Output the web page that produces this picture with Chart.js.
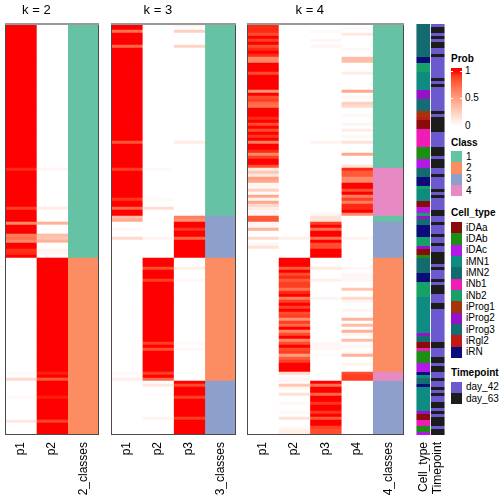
<!DOCTYPE html>
<html>
<head>
<meta charset="utf-8">
<script src="https://cdn.jsdelivr.net/npm/chart.js@4.4.1/dist/chart.umd.min.js"></script>
<style>
  body { margin: 0; width: 504px; height: 504px; background: #fff; position: relative; overflow: hidden;
         font-family: "Liberation Sans", Arial, sans-serif; }
  .panel { position: absolute; top: 0; height: 504px; }
  .lg { position: absolute; font-size: 10px; line-height: 12px; color: #000; white-space: nowrap; }
  .lg.title { font-weight: bold; }
  .box { position: absolute; }
</style>
</head>
<body>
<div class="panel" style="left:5px;width:94px"><canvas id="k2"></canvas></div>
<div class="panel" style="left:111px;width:125px"><canvas id="k3"></canvas></div>
<div class="panel" style="left:247px;width:157px"><canvas id="k4"></canvas></div>
<div class="panel" style="left:416px;width:29px"><canvas id="anno"></canvas></div>
<script>
// number of samples (rows), same order in every panel
const N = 137;

// ---- k = 2 ----
const k2_p1 = [
  1,1,1,1,1,1,1,1,1,1,
  1,1,1,1,1,1,1,1,1,1,
  1,1,1,1,1,1,1,1,1,1,
  1,1,1,1,1,1,1,1,1,1,
  1,1,1,1,1,1,1,1,0.95,1,
  1,1,1,1,1,1,1,1,1,1,
  1,0.9,1,1,1,1,0.6,1,1,1,
  0.65,0.7,0.6,1,1,0.93,0.95,1,0,0,
  0,0,0,0,0,0,0,0,0,0,
  0,0,0,0,0,0,0,0,0,0,
  0,0,0,0,0,0,0,0,0,0,
  0,0,0,0,0,0,0.03,0,0.2,0,
  0,0,0,0,0.03,0,0,0,0,0,
  0,0,0.12,0,0,0,0
];
const k2_p2 = [
  0,0,0,0,0,0,0,0,0,0,
  0,0,0,0,0,0,0,0,0,0,
  0,0,0,0,0,0,0,0,0,0,
  0,0,0,0,0,0,0,0,0,0,
  0,0,0,0,0,0,0,0,0.05,0,
  0,0,0,0,0,0,0,0,0,0,
  0,0.1,0,0,0,0,0.4,0,0,0,
  0.35,0.3,0.4,0,0,0.07,0.05,0,1,1,
  1,1,1,1,1,1,1,1,1,1,
  1,1,1,1,1,1,1,1,1,1,
  1,1,1,1,1,1,1,1,1,1,
  1,1,1,1,1,1,0.97,1,0.8,1,
  1,1,1,1,0.97,1,1,1,1,1,
  1,1,0.88,1,1,1,1
];
const k2_class = [
  1,1,1,1,1,1,1,1,1,1,
  1,1,1,1,1,1,1,1,1,1,
  1,1,1,1,1,1,1,1,1,1,
  1,1,1,1,1,1,1,1,1,1,
  1,1,1,1,1,1,1,1,1,1,
  1,1,1,1,1,1,1,1,1,1,
  1,1,1,1,1,1,1,1,1,1,
  1,1,1,1,1,1,1,1,2,2,
  2,2,2,2,2,2,2,2,2,2,
  2,2,2,2,2,2,2,2,2,2,
  2,2,2,2,2,2,2,2,2,2,
  2,2,2,2,2,2,2,2,2,2,
  2,2,2,2,2,2,2,2,2,2,
  2,2,2,2,2,2,2
];

// ---- k = 3 ----
const k3_p1 = [
  1,1,0.7,1,1,1,1,0.75,1,1,
  1,1,1,1,1,1,1,1,1,1,
  1,1,1,1,1,1,1,1,1,1,
  1,1,1,1,1,1,1,1,1,0.82,
  1,1,1,1,1,1,1,1,0.9,1,
  1,1,1,1,1,1,1,1,0.92,1,
  1,0.75,1,1,0.35,0.45,0,0,0.04,0,
  0,0.2,0,0,0,0,0,0,0,0,
  0,0,0,0,0,0,0,0,0,0,
  0,0,0,0,0,0,0,0,0,0,
  0,0,0,0,0,0,0,0,0,0,
  0,0,0,0,0,0,0.03,0,0.08,0,
  0,0,0,0,0,0,0,0,0,0,
  0,0,0,0,0,0,0
];
const k3_p2 = [
  0,0,0,0,0,0,0,0,0,0,
  0,0,0,0,0,0,0,0,0,0,
  0,0,0,0,0,0,0,0,0,0,
  0,0,0,0,0,0,0,0,0,0,
  0,0,0,0,0,0,0,0,0.03,0,
  0,0,0,0,0,0,0,0,0.03,0,
  0,0.18,0,0,0,0,0,0,0,0,
  0,0.05,0,0,0,0,0,0,1,1,
  1,0.85,1,1,1,0.9,1,1,1,1,
  1,1,1,1,1,1,1,1,1,1,
  1,1,1,1,1,1,0.9,1,0.85,1,
  1,1,1,1,1,1,0.9,1,0.75,0,
  0.12,0,0,0.02,0,0,0,0,0,0,
  0,0.05,0,0,0,0,0
];
const k3_p3 = [
  0.05,0,0.25,0,0,0,0,0.22,0,0,
  0,0,0,0,0,0,0,0,0,0,
  0,0,0,0,0,0,0,0,0,0,
  0,0,0,0,0,0,0,0,0,0.1,
  0,0,0,0,0,0,0,0,0,0,
  0,0,0,0,0,0,0,0,0,0,
  0,0,0,0,0.65,0.55,1,1,0.92,1,
  1,0.75,1,1,1,1,1,1,0,0,
  0,0.08,0,0,0,0.04,0,0,0,0,
  0,0,0,0,0,0,0,0,0,0,
  0,0,0,0,0,0,0.03,0,0.04,0,
  0,0,0,0,0,0,0,0,0,1,
  0.85,1,1,1,0.9,1,1,1,1,1,
  1,0.9,1,1,1,1,1
];
const k3_class = [
  1,1,1,1,1,1,1,1,1,1,
  1,1,1,1,1,1,1,1,1,1,
  1,1,1,1,1,1,1,1,1,1,
  1,1,1,1,1,1,1,1,1,1,
  1,1,1,1,1,1,1,1,1,1,
  1,1,1,1,1,1,1,1,1,1,
  1,1,1,1,3,3,3,3,3,3,
  3,3,3,3,3,3,3,3,2,2,
  2,2,2,2,2,2,2,2,2,2,
  2,2,2,2,2,2,2,2,2,2,
  2,2,2,2,2,2,2,2,2,2,
  2,2,2,2,2,2,2,2,2,3,
  3,3,3,3,3,3,3,3,3,3,
  3,3,3,3,3,3,3
];

// ---- k = 4 ----
const k4_p1 = [
  0.95,0.95,0.95,0.85,1,0.9,1,0.85,0.95,1,
  0.95,0.6,0.6,1,1,1,0.85,1,1,1,
  1,1,0.55,1,0.85,0.9,0.75,0.7,1,1,
  1,0.95,1,0.85,1,0.85,1,0.92,1,0.65,
  1,1,0.95,0.6,0.9,1,1,0.85,0.1,0.3,
  0.12,0.5,0.45,0.05,0.05,0.25,0.02,0.45,0.05,0.45,
  0.2,0.1,0.05,0.05,0.82,0.82,0.05,0.05,0.4,0,
  0,0.2,0,0.05,0.15,0,0,0,0,0,
  0,0,0,0,0,0,0,0,0,0,
  0,0,0,0,0,0,0,0,0,0,
  0,0,0,0,0,0,0,0,0,0,
  0,0,0,0,0,0,0,0,0,0,
  0,0,0,0,0,0,0,0,0,0,
  0,0,0,0,0,0,0
];
const k4_p2 = [
  0,0,0,0,0,0,0,0,0,0,
  0,0,0,0,0,0,0,0,0,0,
  0,0,0,0,0,0,0,0,0,0,
  0,0,0,0,0,0,0,0,0,0,
  0,0,0,0,0,0,0,0,0,0,
  0,0,0,0,0,0,0,0,0,0,
  0,0,0,0,0,0,0,0,0,0,
  0,0.08,0,0,0,0,0,0,1,1,
  1,0.8,1,0.85,0.95,0.8,0.9,0.9,0.7,0.95,
  1,0.65,0.9,1,0.9,1,0.85,0.9,0.55,0.9,
  0.75,1,0.6,0.85,1,0.6,0.85,1,0.85,0.9,
  0.5,0.8,0.9,1,1,1,0.2,0.02,0.05,0.02,
  0.3,0.05,0,0.15,0,0,0.03,0,0,0.03,
  0,0.15,0,0,0.03,0.08,0.08
];
const k4_p3 = [
  0,0,0.03,0,0,0.04,0,0.05,0,0,
  0,0,0,0,0,0,0,0,0,0,
  0,0,0,0,0,0,0,0,0,0,
  0,0,0,0,0,0,0,0,0,0.06,
  0,0,0,0,0,0,0,0,0,0,
  0,0,0,0,0,0,0,0,0,0,
  0,0,0,0.05,0.15,0.15,0.9,1,0.7,1,
  1,0.7,1,0.85,0.85,1,1,1,0,0,
  0,0.1,0,0,0,0.08,0,0,0,0,
  0,0.05,0,0,0,0,0,0,0,0,
  0,0,0,0,0,0,0.04,0.04,0.04,0,
  0.02,0,0,0,0,0,0,0,0,1,
  0.7,1,1,0.75,1,1,0.92,1,1,0.92,
  1,0.8,1,1,0.9,0.85,0.85
];
const k4_p4 = [
  0,0.03,0,0.12,0,0,0,0,0.03,0,
  0,0.35,0.35,0,0,0,0.1,0,0,0,
  0,0,0.45,0,0.05,0,0.25,0.2,0,0,
  0.03,0,0,0.05,0,0.1,0,0.04,0,0.15,
  0,0,0,0.45,0,0,0,0.15,0.95,0.8,
  0.8,0.6,0.6,1,1,0.85,1,0.65,0.9,0.65,
  0.95,0.95,1,0.6,0,0,0,0,0,0,
  0,0.06,0,0,0,0,0,0,0,0,
  0,0.04,0,0.04,0.04,0.04,0,0,0.3,0,
  0,0.2,0.05,0,0,0.05,0,0,0.4,0,
  0.35,0,0.4,0.06,0,0.35,0,0.05,0,0.03,
  0.4,0,0,0.06,0,0,0.85,0.9,0.9,0,
  0,0,0,0,0,0,0,0,0,0,
  0,0,0,0,0,0,0
];
const k4_class = [
  1,1,1,1,1,1,1,1,1,1,
  1,1,1,1,1,1,1,1,1,1,
  1,1,1,1,1,1,1,1,1,1,
  1,1,1,1,1,1,1,1,1,1,
  1,1,1,1,1,1,1,1,4,4,
  4,4,4,4,4,4,4,4,4,4,
  4,4,4,4,1,1,3,3,3,3,
  3,3,3,3,3,3,3,3,2,2,
  2,2,2,2,2,2,2,2,2,2,
  2,2,2,2,2,2,2,2,2,2,
  2,2,2,2,2,2,2,2,2,2,
  2,2,2,2,2,2,4,4,4,3,
  3,3,3,3,3,3,3,3,3,3,
  3,3,3,3,3,3,3
];

// ---- sample annotations ----
const cellTypeLevels = ["iDAa","iDAb","iDAc","iMN1","iMN2","iNb1","iNb2","iProg1","iProg2","iProg3","iRgl2","iRN"];
const cellTypeColors = ["#8B0A0A","#1A8F14","#B418E6","#0E8C82","#136A6F","#F01CB8","#17A068","#A3350B","#9612C8","#156C73","#BF1A14","#0B0B7A"];
const cellType = [
  "iMN2","iMN2","iMN2","iMN2","iMN2","iMN2","iMN2","iMN2","iMN2","iMN2",
  "iMN2","iRN","iRN","iNb2","iNb2","iNb2","iMN1","iMN1","iMN1","iMN1",
  "iMN1","iMN1","iProg2","iProg2","iProg2","iProg3","iProg3","iProg3","iProg3","iProg1",
  "iProg1","iRgl2","iDAa","iDAa","iDAa","iNb1","iNb1","iNb1","iNb1","iNb1",
  "iNb1","iDAb","iDAb","iDAb","iDAb","iDAc","iDAc","iDAc","iMN2","iMN2",
  "iMN2","iRN","iRN","iRN","iNb2","iMN1","iMN1","iMN1","iMN1","iDAa",
  "iDAa","iDAc","iDAc","iNb2","iProg2","iProg3","iProg3","iRN","iRN","iRN",
  "iRN","iNb2","iNb2","iNb2","iProg2","iDAa","iDAa","iDAb","iMN2","iMN2",
  "iMN2","iMN2","iMN2","iRN","iRN","iRN","iNb2","iNb2","iNb2","iNb2",
  "iNb2","iMN1","iMN1","iMN1","iMN1","iMN1","iMN1","iMN1","iMN1","iMN1",
  "iMN1","iMN1","iMN1","iProg2","iProg3","iProg3","iDAa","iDAa","iNb1","iDAb",
  "iDAb","iDAb","iDAb","iDAc","iDAc","iDAc","iRN","iMN1","iProg3","iProg3",
  "iRN","iMN1","iMN1","iMN1","iMN1","iMN1","iMN1","iMN1","iMN1","iProg2",
  "iDAa","iDAa","iNb1","iNb1","iDAb","iDAb","iDAc"
];
const timepointLevels = ["day_42","day_63"];
const timepointColors = ["#6A5ACD","#1C1C1C"];
const D42 = "day_42", D63 = "day_63";
const timepoint = [
  D42,D63,D63,D42,D63,D42,D63,D63,D42,D42,
  D63,D42,D42,D42,D42,D42,D42,D42,D63,D42,
  D63,D42,D42,D42,D42,D42,D42,D42,D42,D63,
  D42,D63,D63,D63,D63,D63,D42,D42,D42,D42,
  D42,D63,D63,D63,D42,D63,D63,D63,D42,D42,
  D63,D42,D42,D42,D42,D63,D42,D63,D42,D42,
  D42,D42,D63,D63,D42,D42,D63,D42,D42,D42,
  D63,D42,D42,D63,D42,D42,D63,D63,D63,D63,
  D42,D63,D42,D42,D42,D63,D42,D63,D63,D63,
  D42,D42,D42,D63,D63,D42,D42,D42,D42,D42,
  D42,D42,D42,D42,D42,D42,D63,D63,D42,D42,
  D42,D63,D63,D42,D63,D63,D42,D42,D63,D42,
  D42,D63,D42,D63,D42,D42,D63,D63,D42,D63,
  D42,D63,D63,D63,D42,D63,D63
];

const classLevels = ["1","2","3","4"];
const classColors = ["#66C2A5","#FC8D62","#8DA0CB","#E78AC3"];

// white -> red ramp interpolated in LAB, like colorRamp2
function lab2rgb(L, a, b) {
    let y = (L + 16) / 116, x = a / 500 + y, z = y - b / 200;
    const f = t => t * t * t > 0.008856 ? t * t * t : (t - 16 / 116) / 7.787;
    x = 0.95047 * f(x); y = f(y); z = 1.08883 * f(z);
    const lin = [
        x * 3.2406 - y * 1.5372 - z * 0.4986,
        -x * 0.9689 + y * 1.8758 + z * 0.0415,
        x * 0.0557 - y * 0.2040 + z * 1.0570
    ];
    return lin.map(c => {
        c = c > 0.0031308 ? 1.055 * Math.pow(c, 1 / 2.4) - 0.055 : 12.92 * c;
        return Math.round(Math.max(0, Math.min(1, c)) * 255);
    });
}
function probColor(p) {
    const rgb = lab2rgb(100 - 46.76 * p, 80.09 * p, 67.2 * p);
    return 'rgb(' + rgb.join(',') + ')';
}

Chart.defaults.font.family = '"Liberation Sans", Arial, sans-serif';
Chart.defaults.color = '#000';

const rowIdx = Array.from({length: N}, (_, i) => i);

// draws the panel border
const framePlugin = {
    id: 'frame',
    afterDatasetsDraw(chart, args, opts) {
        if (!opts.show) return;
        const {ctx, chartArea: a} = chart;
        ctx.save();
        ctx.strokeStyle = '#4a4a4a';
        ctx.lineWidth = 1;
        ctx.strokeRect(a.left + 0.5, a.top + 0.5, a.right - a.left - 1, a.bottom - a.top - 1);
        ctx.strokeStyle = '#999';
        ctx.lineWidth = 2;
        ctx.beginPath();
        ctx.moveTo(a.left, a.top);
        ctx.lineTo(a.right, a.top);
        ctx.stroke();
        ctx.restore();
    }
};

// "k = n" title centred over the probability columns
const titlePlugin = {
    id: 'panelTitle',
    afterDraw(chart, args, opts) {
        if (!opts.text) return;
        const xs = chart.scales.x;
        const half = xs.width / xs.ticks.length / 2;
        const left = xs.getPixelForValue(0) - half;
        const right = xs.getPixelForValue(opts.span - 1) + half;
        const ctx = chart.ctx;
        ctx.save();
        ctx.font = '13px "Liberation Sans", Arial, sans-serif';
        ctx.fillStyle = '#000';
        ctx.textAlign = 'center';
        ctx.textBaseline = 'middle';
        ctx.fillText(opts.text, (left + right) / 2, 10.5);
        ctx.restore();
    }
};

function columnDataset(label, colors, pct) {
    return {
        data: rowIdx.map(r => ({x: label, y: [r, r + 1]})),
        backgroundColor: colors,
        borderWidth: 0,
        grouped: false,
        barPercentage: pct,
        categoryPercentage: 1
    };
}

function makeOptions(title, span, frame) {
    return {
        responsive: true,
        maintainAspectRatio: false,
        animation: false,
        layout: { padding: { top: 24, left: 0, right: 0, bottom: 0 } },
        plugins: {
            legend: { display: false },
            tooltip: { enabled: false },
            frame: { show: frame },
            panelTitle: { text: title, span: span }
        },
        scales: {
            x: {
                type: 'category',
                offset: true,
                grid: { display: false, drawTicks: false },
                border: { display: false },
                ticks: { autoSkip: false, minRotation: 90, maxRotation: 90, padding: 7, font: { size: 12 }, color: '#000' },
                afterFit: function (s) { s.height = 69; s.paddingLeft = 0; s.paddingRight = 0; }
            },
            y: { type: 'linear', min: 0, max: N, reverse: true, display: false }
        }
    };
}

function makeHeatmap(canvasId, probCols, classCol) {
    const k = probCols.length;
    const labels = probCols.map((_, j) => 'p' + (j + 1)).concat([k + '_classes']);
    const datasets = probCols.map((vals, j) => columnDataset(labels[j], vals.map(probColor), 1));
    datasets.push(columnDataset(labels[k], classCol.map(c => classColors[c - 1]), 1));
    return new Chart(document.getElementById(canvasId), {
        type: 'bar',
        data: { labels: labels, datasets: datasets },
        options: makeOptions('k = ' + k, k, true),
        plugins: [framePlugin, titlePlugin]
    });
}

makeHeatmap('k2', [k2_p1, k2_p2], k2_class);
makeHeatmap('k3', [k3_p1, k3_p2, k3_p3], k3_class);
makeHeatmap('k4', [k4_p1, k4_p2, k4_p3, k4_p4], k4_class);

new Chart(document.getElementById('anno'), {
    type: 'bar',
    data: {
        labels: ['Cell_type', 'Timepoint'],
        datasets: [
            columnDataset('Cell_type', cellType.map(c => cellTypeColors[cellTypeLevels.indexOf(c)]), 0.94),
            columnDataset('Timepoint', timepoint.map(t => timepointColors[timepointLevels.indexOf(t)]), 0.94)
        ]
    },
    options: makeOptions(null, 0, false),
    plugins: [framePlugin, titlePlugin]
});

// ---- legends (html) ----
function addText(txt, x, yc, bold) {
    const d = document.createElement('div');
    d.className = 'lg' + (bold ? ' title' : '');
    d.textContent = txt;
    d.style.left = x + 'px';
    d.style.top = (yc - 6) + 'px';
    document.body.appendChild(d);
}
function addBox(x, y, w, h, bg) {
    const d = document.createElement('div');
    d.className = 'box';
    d.style.left = x + 'px';
    d.style.top = y + 'px';
    d.style.width = w + 'px';
    d.style.height = h + 'px';
    d.style.background = bg;
    document.body.appendChild(d);
}

const probBreaks = [1, 0.5, 0];
addText('Prob', 451, 59, true);
let stops = [];
for (let i = 0; i <= 10; i++) {
    const p = 1 - i / 10;
    stops.push(probColor(p) + ' ' + (5 + i * 9.5).toFixed(1) + '%');
}
addBox(451, 68, 11, 58, 'linear-gradient(to bottom, ' + probColor(1) + ' 0%, ' + stops.join(', ') + ')');
probBreaks.forEach(b => {
    const yc = 126 - b * 55.3;
    addText(String(b), 465, yc, false);
    if (b > 0) {
        addBox(451, Math.round(yc) - 0.5, 2, 1, '#fff');
        addBox(460, Math.round(yc) - 0.5, 2, 1, '#fff');
    }
});

const step = 11.34;
addText('Class', 451, 143, true);
classLevels.forEach((c, i) => {
    addBox(451, 151 + step * i, 11, step, classColors[i]);
    addText(c, 466, 151 + step * i + step / 2, false);
});

addText('Cell_type', 451, 212.5, true);
cellTypeLevels.forEach((c, i) => {
    addBox(451, 222 + step * i, 11, step, cellTypeColors[i]);
    addText(c, 466, 222 + step * i + step / 2, false);
});

addText('Timepoint', 451, 373, true);
timepointLevels.forEach((t, i) => {
    addBox(451, 381.5 + step * i, 11, step, timepointColors[i]);
    addText(t, 466, 381.5 + step * i + step / 2, false);
});
</script>
</body>
</html>
